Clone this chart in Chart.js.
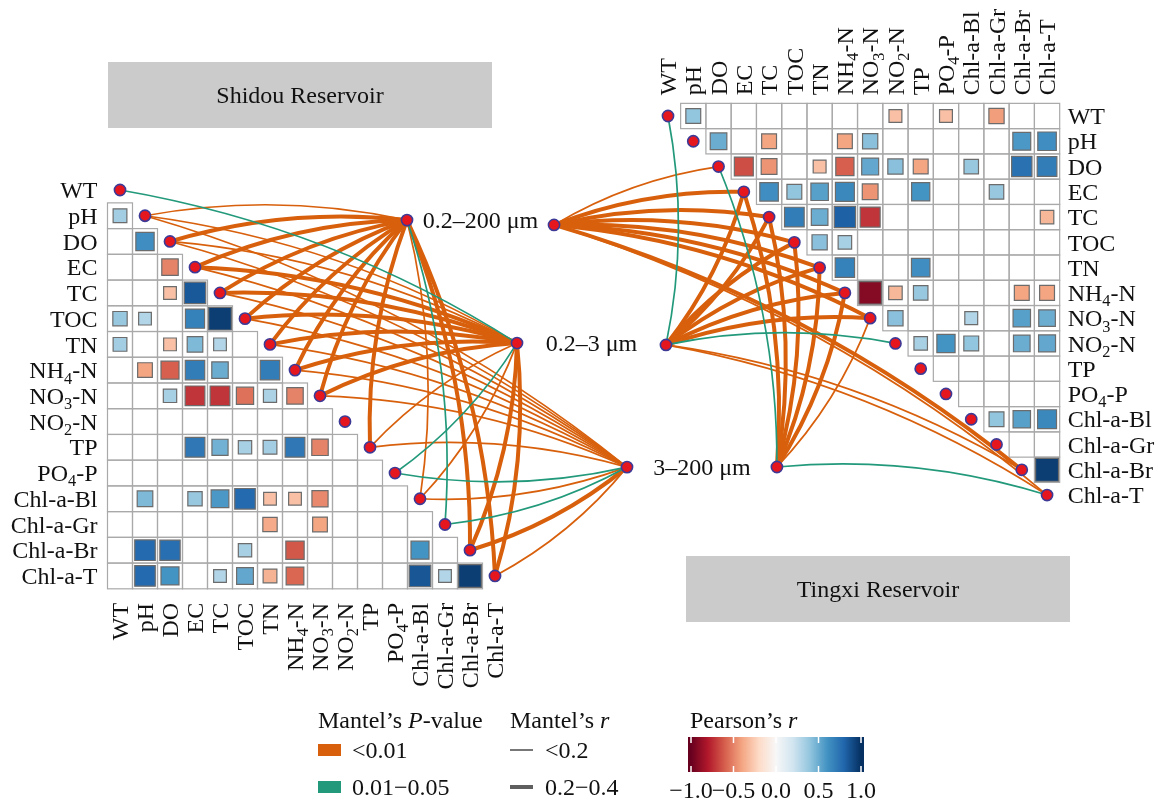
<!DOCTYPE html>
<html>
<head>
<meta charset="utf-8">
<title>Mantel test — Shidou and Tingxi reservoirs</title>
<script src="https://cdn.jsdelivr.net/npm/chart.js@4.4.1/dist/chart.umd.min.js"></script>
<style>
  html, body { margin: 0; padding: 0; background: #ffffff; overflow: hidden; }
  #wrap { position: relative; width: 1163px; height: 804px; }
  canvas { display: block; }
</style>
</head>
<body>
<div id="wrap"><canvas id="chart" width="1163" height="804"></canvas></div>
<script>
// ---------------- data ----------------
const variables = ['WT', 'pH', 'DO', 'EC', 'TC', 'TOC', 'TN', 'NH4-N', 'NO3-N', 'NO2-N', 'TP', 'PO4-P',
  'Chl-a-Bl', 'Chl-a-Gr', 'Chl-a-Br', 'Chl-a-T'];
// "_x" marks a subscript character
const variableLabels = ['WT', 'pH', 'DO', 'EC', 'TC', 'TOC', 'TN', 'NH_4-N', 'NO_3-N', 'NO_2-N', 'TP', 'PO_4-P',
  'Chl-a-Bl', 'Chl-a-Gr', 'Chl-a-Br', 'Chl-a-T'];
const sizeFractions = ['0.2–200 μm', '0.2–3 μm', '3–200 μm'];
const pValueClasses = ['<0.01', '0.01−0.05'];
const mantelRClasses = ['<0.2', '0.2−0.4'];
const pearsonTicks = [-1, -0.5, 0, 0.5, 1];
const pearsonTickLabels = ['−1.0', '−0.5', '0.0', '0.5', '1.0'];

// Pearson's r between environmental factors: [row, column, r]
const shidouPearson = [
  ['pH', 'WT', 0.35],
  ['DO', 'pH', 0.62],
  ['EC', 'DO', -0.5],
  ['TC', 'DO', -0.3], ['TC', 'EC', 0.85],
  ['TOC', 'WT', 0.38], ['TOC', 'pH', 0.3], ['TOC', 'EC', 0.68], ['TOC', 'TC', 0.95],
  ['TN', 'WT', 0.35], ['TN', 'DO', -0.3], ['TN', 'EC', 0.45], ['TN', 'TC', 0.3],
  ['NH4-N', 'pH', -0.4], ['NH4-N', 'DO', -0.6], ['NH4-N', 'EC', 0.7], ['NH4-N', 'TC', 0.5], ['NH4-N', 'TN', 0.7],
  ['NO3-N', 'DO', 0.33], ['NO3-N', 'EC', -0.72], ['NO3-N', 'TC', -0.72], ['NO3-N', 'TOC', -0.55], ['NO3-N', 'TN', 0.32], ['NO3-N', 'NH4-N', -0.5],
  ['TP', 'EC', 0.72], ['TP', 'TC', 0.48], ['TP', 'TOC', 0.33], ['TP', 'TN', 0.35], ['TP', 'NH4-N', 0.72], ['TP', 'NO3-N', -0.5],
  ['Chl-a-Bl', 'pH', 0.45], ['Chl-a-Bl', 'EC', 0.38], ['Chl-a-Bl', 'TC', 0.58], ['Chl-a-Bl', 'TOC', 0.78], ['Chl-a-Bl', 'TN', -0.3], ['Chl-a-Bl', 'NH4-N', -0.3], ['Chl-a-Bl', 'NO3-N', -0.48],
  ['Chl-a-Gr', 'TN', -0.38], ['Chl-a-Gr', 'NO3-N', -0.4],
  ['Chl-a-Br', 'pH', 0.78], ['Chl-a-Br', 'DO', 0.76], ['Chl-a-Br', 'TOC', 0.33], ['Chl-a-Br', 'NH4-N', -0.62], ['Chl-a-Br', 'Chl-a-Bl', 0.6],
  ['Chl-a-T', 'pH', 0.78], ['Chl-a-T', 'DO', 0.6], ['Chl-a-T', 'TC', 0.3], ['Chl-a-T', 'TOC', 0.52], ['Chl-a-T', 'TN', -0.35], ['Chl-a-T', 'NH4-N', -0.58],
  ['Chl-a-T', 'Chl-a-Bl', 0.86], ['Chl-a-T', 'Chl-a-Gr', 0.3], ['Chl-a-T', 'Chl-a-Br', 0.95]
];

const tingxiPearson = [
  ['WT', 'pH', 0.4], ['WT', 'NO2-N', -0.3], ['WT', 'PO4-P', -0.3], ['WT', 'Chl-a-Gr', -0.42],
  ['pH', 'DO', 0.5], ['pH', 'TC', -0.4], ['pH', 'NH4-N', -0.4], ['pH', 'NO3-N', 0.42], ['pH', 'Chl-a-Br', 0.58], ['pH', 'Chl-a-T', 0.62],
  ['DO', 'EC', -0.65], ['DO', 'TC', -0.45], ['DO', 'TN', -0.3], ['DO', 'NH4-N', -0.6], ['DO', 'NO3-N', 0.52], ['DO', 'NO2-N', 0.42],
  ['DO', 'TP', -0.4], ['DO', 'Chl-a-Bl', 0.38], ['DO', 'Chl-a-Br', 0.75], ['DO', 'Chl-a-T', 0.7],
  ['EC', 'TC', 0.62], ['EC', 'TOC', 0.4], ['EC', 'TN', 0.55], ['EC', 'NH4-N', 0.65], ['EC', 'NO3-N', -0.45], ['EC', 'TP', 0.6], ['EC', 'Chl-a-Gr', 0.38],
  ['TC', 'TOC', 0.7], ['TC', 'TN', 0.5], ['TC', 'NH4-N', 0.82], ['TC', 'NO3-N', -0.72], ['TC', 'Chl-a-T', -0.33],
  ['TOC', 'TN', 0.42], ['TOC', 'NH4-N', 0.33],
  ['TN', 'NH4-N', 0.68], ['TN', 'TP', 0.62],
  ['NH4-N', 'NO3-N', -0.92], ['NH4-N', 'NO2-N', -0.33], ['NH4-N', 'TP', 0.38], ['NH4-N', 'Chl-a-Br', -0.4], ['NH4-N', 'Chl-a-T', -0.4],
  ['NO3-N', 'NO2-N', 0.42], ['NO3-N', 'Chl-a-Bl', 0.3], ['NO3-N', 'Chl-a-Br', 0.55], ['NO3-N', 'Chl-a-T', 0.5],
  ['NO2-N', 'TP', 0.33], ['NO2-N', 'PO4-P', 0.6], ['NO2-N', 'Chl-a-Bl', 0.4], ['NO2-N', 'Chl-a-Br', 0.5], ['NO2-N', 'Chl-a-T', 0.52],
  ['Chl-a-Bl', 'Chl-a-Gr', 0.4], ['Chl-a-Bl', 'Chl-a-Br', 0.55], ['Chl-a-Bl', 'Chl-a-T', 0.65],
  ['Chl-a-Br', 'Chl-a-T', 0.95]
];

// Mantel links: [size fraction, factor, P-value class index, Mantel's r class index]
const [F1, F2, F3] = sizeFractions;
const shidouMantel = [
  [F1, 'pH', 0, 0], [F1, 'DO', 0, 1], [F1, 'EC', 0, 1], [F1, 'TC', 0, 1], [F1, 'TOC', 0, 1], [F1, 'TN', 0, 1],
  [F1, 'NH4-N', 0, 1], [F1, 'NO3-N', 0, 1], [F1, 'TP', 0, 1], [F1, 'Chl-a-Bl', 0, 0], [F1, 'Chl-a-Gr', 1, 0],
  [F1, 'Chl-a-Br', 0, 1], [F1, 'Chl-a-T', 0, 1],
  [F2, 'WT', 1, 0], [F2, 'pH', 0, 0], [F2, 'DO', 0, 0], [F2, 'EC', 0, 1], [F2, 'TC', 0, 1], [F2, 'TOC', 0, 1],
  [F2, 'TN', 0, 1], [F2, 'NH4-N', 0, 1], [F2, 'NO3-N', 0, 1], [F2, 'TP', 0, 0], [F2, 'PO4-P', 1, 0],
  [F2, 'Chl-a-Bl', 0, 0], [F2, 'Chl-a-Br', 0, 1], [F2, 'Chl-a-T', 0, 1],
  [F3, 'pH', 0, 0], [F3, 'DO', 0, 0], [F3, 'EC', 0, 0], [F3, 'TC', 0, 0], [F3, 'TOC', 0, 0], [F3, 'TN', 0, 0],
  [F3, 'NH4-N', 0, 0], [F3, 'NO3-N', 0, 0], [F3, 'TP', 0, 0], [F3, 'PO4-P', 1, 0], [F3, 'Chl-a-Bl', 0, 0],
  [F3, 'Chl-a-Gr', 1, 0], [F3, 'Chl-a-Br', 0, 1], [F3, 'Chl-a-T', 0, 0]
];
const tingxiMantel = [
  [F1, 'DO', 0, 0], [F1, 'EC', 0, 1], [F1, 'TC', 0, 1], [F1, 'TOC', 0, 1], [F1, 'TN', 0, 1], [F1, 'NH4-N', 0, 1],
  [F1, 'NO3-N', 0, 1], [F1, 'Chl-a-Br', 0, 1], [F1, 'Chl-a-T', 0, 0],
  [F2, 'WT', 1, 0], [F2, 'EC', 0, 1], [F2, 'TC', 0, 1], [F2, 'TOC', 0, 1], [F2, 'TN', 0, 1], [F2, 'NH4-N', 0, 1],
  [F2, 'NO3-N', 0, 1], [F2, 'NO2-N', 1, 0], [F2, 'Chl-a-Br', 0, 0], [F2, 'Chl-a-T', 0, 0],
  [F3, 'DO', 1, 0], [F3, 'EC', 0, 1], [F3, 'TC', 0, 1], [F3, 'TOC', 0, 1], [F3, 'TN', 0, 1], [F3, 'NH4-N', 0, 1],
  [F3, 'NO3-N', 0, 0], [F3, 'Chl-a-T', 1, 0]
];

// ---------------- layout & style ----------------
const W = 1163, H = 804;
const FONT = '"Liberation Serif", "Times New Roman", "DejaVu Serif", serif';
const TXT = 24;
// factor i sits on the diagonal cell (i, i) of each panel
const frameShidou = { x0: 120, y0: 190, dx: 25, dy: 25.73 };
const frameTingxi = { x0: 668, y0: 116, dx: 25.27, dy: 25.27 };
// size-fraction nodes, in panel cell units
const shidouSpecPos = [[11.48, 1.17], [15.88, 5.95], [20.28, 10.77]];
const tingxiSpecPos = [[-4.51, 4.31], [-0.08, 9.06], [4.31, 13.89]];
const pColors = ['#D8600C', '#22997A'];
const rWidths = [1.7, 4];
const rdbuStops = ['#67001F', '#B2182B', '#D6604D', '#F4A582', '#FDDBC7', '#F7F7F7',
  '#D1E5F0', '#92C5DE', '#4393C3', '#2166AC', '#053061'];

function hexToRgb(h) {
  return [parseInt(h.slice(1, 3), 16), parseInt(h.slice(3, 5), 16), parseInt(h.slice(5, 7), 16)];
}
function rdbu(v) {
  const t = Math.max(0, Math.min(10, (v + 1) / 2 * 10));
  const i = Math.min(9, Math.floor(t));
  const f = t - i;
  const a = hexToRgb(rdbuStops[i]), b = hexToRgb(rdbuStops[i + 1]);
  const c = a.map((x, k) => Math.round(x + (b[k] - x) * f));
  return `rgb(${c[0]},${c[1]},${c[2]})`;
}

function frameScale(frame, axis) {
  const o = axis === 'x' ? frame.x0 : frame.y0;
  const s = axis === 'x' ? frame.dx : frame.dy;
  const span = axis === 'x' ? W : H;
  return { type: 'linear', axis, display: false, reverse: axis === 'y', min: -o / s, max: (span - o) / s };
}

function cellPoints(list) {
  return list.map(([row, col, v]) => ({ x: variables.indexOf(col), y: variables.indexOf(row), v }));
}
function cellRadius(ctx, xs, ys) {
  if (!ctx.raw) return 0;
  const X = ctx.chart.scales[xs], Y = ctx.chart.scales[ys];
  const cw = Math.abs(X.getPixelForValue(1) - X.getPixelForValue(0));
  const ch = Math.abs(Y.getPixelForValue(1) - Y.getPixelForValue(0));
  const side = Math.min(cw, ch) * 0.93 * Math.sqrt(Math.abs(ctx.raw.v));
  return side / Math.SQRT2;
}
function cellDataset(label, list, xs, ys) {
  return {
    label, data: cellPoints(list), xAxisID: xs, yAxisID: ys, showLine: false, order: 3,
    pointStyle: 'rect',
    pointRadius: ctx => cellRadius(ctx, xs, ys),
    pointBackgroundColor: ctx => (ctx.raw ? rdbu(ctx.raw.v) : '#ffffff'),
    pointBorderColor: '#6c6c6c', pointBorderWidth: 1.2
  };
}
function nodeDataset(label, specPos, xs, ys) {
  const pts = variables.map((_, i) => ({ x: i, y: i }))
    .concat(specPos.map(p => ({ x: p[0], y: p[1] })));
  return {
    label, data: pts, xAxisID: xs, yAxisID: ys, showLine: false, order: 1,
    pointStyle: 'circle', pointRadius: 5.6,
    pointBackgroundColor: '#E5161D', pointBorderColor: '#3D3A97', pointBorderWidth: 1.6
  };
}

// ---------------- text helpers ----------------
function parseRich(s) {
  const segs = [];
  let buf = '', it = false;
  for (let k = 0; k < s.length; k++) {
    const ch = s[k];
    if (ch === '_') {
      if (buf) segs.push({ t: buf, it }); buf = '';
      segs.push({ t: s[k + 1], sub: true, it }); k++;
    } else if (ch === '*') {
      if (buf) segs.push({ t: buf, it }); buf = '';
      it = !it;
    } else buf += ch;
  }
  if (buf) segs.push({ t: buf, it });
  return segs;
}
function fontOf(size, it) { return `${it ? 'italic ' : ''}${size}px ${FONT}`; }
function drawRich(ctx, text, x, y, align, size, color) {
  const segs = parseRich(text);
  let w = 0;
  segs.forEach(s => {
    s.sz = s.sub ? size * 0.68 : size;
    ctx.font = fontOf(s.sz, s.it);
    s.w = ctx.measureText(s.t).width;
    w += s.w;
  });
  let cx = align === 'right' ? x - w : align === 'center' ? x - w / 2 : x;
  const base = y + 0.34 * size;
  ctx.textAlign = 'left';
  ctx.textBaseline = 'alphabetic';
  ctx.fillStyle = color || '#111111';
  segs.forEach(s => {
    ctx.font = fontOf(s.sz, s.it);
    ctx.fillText(s.t, cx, s.sub ? base + size * 0.22 : base);
    cx += s.w;
  });
}
function drawRotated(ctx, text, x, y, align, size) {
  ctx.save();
  ctx.translate(x, y);
  ctx.rotate(-Math.PI / 2);
  drawRich(ctx, text, 0, 0, align, size);
  ctx.restore();
}

// ---------------- panels ----------------
const panels = [
  { xs: 'xS', ys: 'yS', lower: true, mantel: shidouMantel, spec: shidouSpecPos,
    bend: (vi, dx, dy) => (vi < 11 ? 1 : -1) },
  { xs: 'xT', ys: 'yT', lower: false, mantel: tingxiMantel, spec: tingxiSpecPos,
    bend: (vi, dx, dy) => (Math.abs(dx) > Math.abs(dy) ? -1 : 1) }
];

function drawGrid(chart, p) {
  const ctx = chart.ctx, X = chart.scales[p.xs], Y = chart.scales[p.ys];
  const n = variables.length;
  ctx.save();
  ctx.strokeStyle = '#A9A9A9';
  ctx.lineWidth = 1.2;
  for (let i = 0; i < n; i++) {
    for (let j = 0; j < n; j++) {
      if (p.lower ? j < i : j > i) {
        const l = X.getPixelForValue(j - 0.5), r = X.getPixelForValue(j + 0.5);
        const t = Y.getPixelForValue(i - 0.5), b = Y.getPixelForValue(i + 0.5);
        ctx.strokeRect(l, t, r - l, b - t);
      }
    }
  }
  ctx.restore();
}

function drawLinks(chart, p) {
  const ctx = chart.ctx, X = chart.scales[p.xs], Y = chart.scales[p.ys];
  const links = p.mantel.slice().sort((a, b) => (a[2] - b[2]) || (b[3] - a[3]));
  ctx.save();
  ctx.lineCap = 'round';
  links.forEach(([spec, name, pc, rc]) => {
    const si = sizeFractions.indexOf(spec), vi = variables.indexOf(name);
    const x0 = X.getPixelForValue(p.spec[si][0]), y0 = Y.getPixelForValue(p.spec[si][1]);
    const x1 = X.getPixelForValue(vi), y1 = Y.getPixelForValue(vi);
    const dx = x1 - x0, dy = y1 - y0;
    const s = p.bend(vi, dx, dy) * 0.1;
    const cx = (x0 + x1) / 2 - s * dy, cy = (y0 + y1) / 2 + s * dx;
    ctx.beginPath();
    ctx.moveTo(x0, y0);
    ctx.quadraticCurveTo(cx, cy, x1, y1);
    ctx.strokeStyle = pColors[pc];
    ctx.lineWidth = rWidths[rc];
    ctx.stroke();
  });
  ctx.restore();
}

function drawAxisLabels(chart) {
  const ctx = chart.ctx;
  // Shidou: factor names on the left and, rotated, below the grid
  let X = chart.scales.xS, Y = chart.scales.yS;
  const sLeft = X.getPixelForValue(-0.5) - 10;
  const sBottom = Y.getPixelForValue(variables.length - 0.5) + 14;
  variableLabels.forEach((lab, i) => {
    drawRich(ctx, lab, sLeft, Y.getPixelForValue(i), 'right', TXT);
    drawRotated(ctx, lab, X.getPixelForValue(i), sBottom, 'right', TXT);
  });
  // Tingxi: factor names on the right and, rotated, above the grid
  X = chart.scales.xT; Y = chart.scales.yT;
  const tRight = X.getPixelForValue(variables.length - 0.5) + 8;
  const tTop = Y.getPixelForValue(-0.5) - 8;
  variableLabels.forEach((lab, i) => {
    drawRich(ctx, lab, tRight, Y.getPixelForValue(i), 'left', TXT);
    drawRotated(ctx, lab, X.getPixelForValue(i), tTop, 'left', TXT);
  });
  // size-fraction names between the two node sets
  sizeFractions.forEach((name, k) => {
    const xa = chart.scales.xS.getPixelForValue(shidouSpecPos[k][0]);
    const ya = chart.scales.yS.getPixelForValue(shidouSpecPos[k][1]);
    const xb = chart.scales.xT.getPixelForValue(tingxiSpecPos[k][0]);
    drawRich(ctx, name, (xa + xb) / 2, ya, 'center', TXT);
  });
}

function drawTitleBox(ctx, text, l, t, w, h) {
  ctx.save();
  ctx.fillStyle = '#CBCBCB';
  ctx.fillRect(l, t, w, h);
  ctx.restore();
  drawRich(ctx, text, l + w / 2, t + h / 2, 'center', TXT);
}

function drawLegend(ctx) {
  // Mantel's P-value
  drawRich(ctx, 'Mantel’s *P*-value', 318, 720, 'left', TXT);
  const keyY = [750, 787];
  pValueClasses.forEach((lab, k) => {
    ctx.fillStyle = pColors[k];
    ctx.fillRect(318, keyY[k] - 6, 23, 12);
    drawRich(ctx, lab, 352, keyY[k], 'left', TXT);
  });
  // Mantel's r
  drawRich(ctx, 'Mantel’s *r*', 510, 720, 'left', TXT);
  mantelRClasses.forEach((lab, k) => {
    ctx.save();
    ctx.strokeStyle = '#5f5f5f';
    ctx.lineWidth = rWidths[k];
    ctx.beginPath();
    ctx.moveTo(510, keyY[k]);
    ctx.lineTo(533, keyY[k]);
    ctx.stroke();
    ctx.restore();
    drawRich(ctx, lab, 545, keyY[k], 'left', TXT);
  });
  // Pearson's r colour bar
  drawRich(ctx, 'Pearson’s *r*', 690, 720, 'left', TXT);
  const cb = { l: 688, r: 864, t: 737, b: 772 };
  const v0 = 691, v1 = 861;
  const px = v => v0 + (v + 1) / 2 * (v1 - v0);
  const grad = ctx.createLinearGradient(v0, 0, v1, 0);
  rdbuStops.forEach((c, i) => grad.addColorStop(i / 10, c));
  ctx.save();
  ctx.fillStyle = grad;
  ctx.fillRect(cb.l, cb.t, cb.r - cb.l, cb.b - cb.t);
  ctx.strokeStyle = '#ffffff';
  ctx.lineWidth = 1.5;
  pearsonTicks.forEach(v => {
    const x = px(v);
    ctx.beginPath();
    ctx.moveTo(x, cb.t); ctx.lineTo(x, cb.t + 6);
    ctx.moveTo(x, cb.b - 6); ctx.lineTo(x, cb.b);
    ctx.stroke();
  });
  ctx.restore();
  pearsonTicks.forEach((v, k) => drawRich(ctx, pearsonTickLabels[k], px(v), 790, 'center', TXT));
}

const mantelGraphics = {
  id: 'mantelGraphics',
  beforeDatasetsDraw(chart) {
    panels.forEach(p => drawGrid(chart, p));
    panels.forEach(p => drawLinks(chart, p));
  },
  afterDatasetsDraw(chart) {
    const ctx = chart.ctx;
    drawAxisLabels(chart);
    drawTitleBox(ctx, 'Shidou Reservoir', 108, 62, 384, 66);
    drawTitleBox(ctx, 'Tingxi Reservoir', 686, 556, 384, 66);
    drawLegend(ctx);
  }
};

const whiteBackground = {
  id: 'whiteBackground',
  beforeDraw(chart) {
    const ctx = chart.ctx;
    ctx.save();
    ctx.fillStyle = '#ffffff';
    ctx.fillRect(0, 0, chart.width, chart.height);
    ctx.restore();
  }
};

new Chart(document.getElementById('chart'), {
  type: 'scatter',
  data: {
    datasets: [
      nodeDataset('Shidou nodes', shidouSpecPos, 'xS', 'yS'),
      nodeDataset('Tingxi nodes', tingxiSpecPos, 'xT', 'yT'),
      cellDataset('Shidou Pearson', shidouPearson, 'xS', 'yS'),
      cellDataset('Tingxi Pearson', tingxiPearson, 'xT', 'yT')
    ]
  },
  options: {
    responsive: false,
    animation: false,
    events: [],
    layout: { padding: 0, autoPadding: false },
    plugins: { legend: { display: false }, tooltip: { enabled: false }, title: { display: false } },
    scales: {
      x: { display: false }, y: { display: false },
      xS: frameScale(frameShidou, 'x'), yS: frameScale(frameShidou, 'y'),
      xT: frameScale(frameTingxi, 'x'), yT: frameScale(frameTingxi, 'y')
    }
  },
  plugins: [whiteBackground, mantelGraphics]
});
</script>
</body>
</html>
